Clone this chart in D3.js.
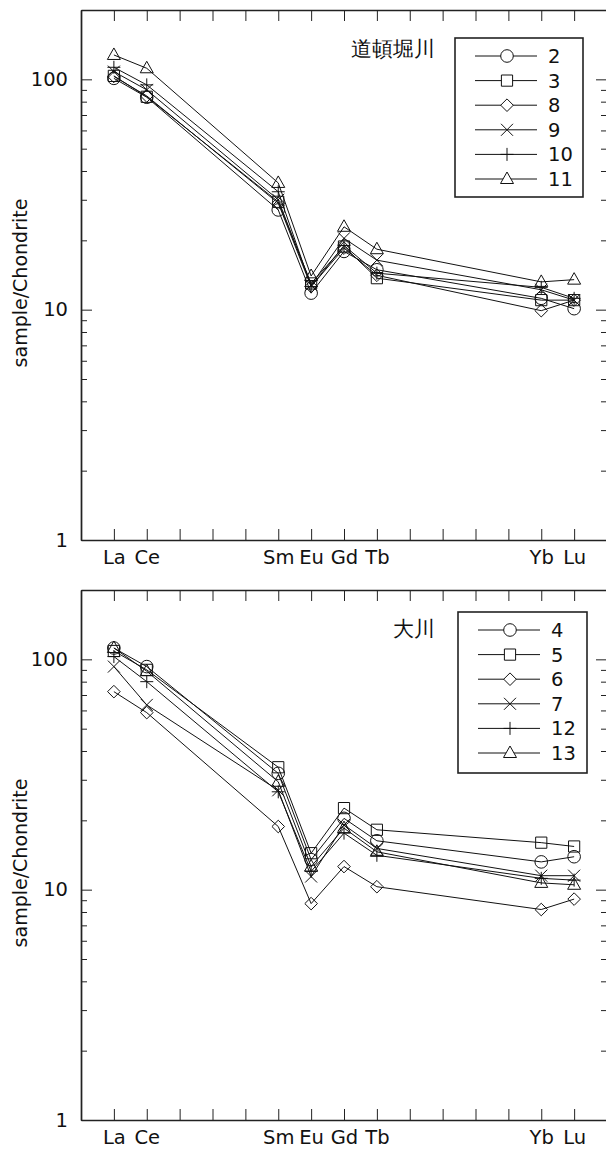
<!DOCTYPE html>
<html lang="ja">
<head>
    <meta charset="utf-8">
    <script type="text/javascript" src="https://d3js.org/d3.v7.min.js"></script>
    <style>
        body { margin: 0; background: #fff; }
        svg { display: block; }
        text { font-family: "DejaVu Sans", sans-serif; fill: #111; }
    </style>
</head>

<body>
    <script type="text/javascript">
        // Window size
        let w = 606;
        let h = 1149;

        // Categories (REE) and their atomic numbers on the x axis
        let elements = ["La", "Ce", "Sm", "Eu", "Gd", "Tb", "Yb", "Lu"];
        let atomicNo = [57, 58, 62, 63, 64, 65, 70, 71];

        // Y tick labels
        let yTickLabels = [1, 10, 100];

        // Panel 1 : 道頓堀川
        let names1 = ["2", "3", "8", "9", "10", "11"];
        let s2  = [101, 83.6, 27.1, 11.8, 17.9, 14.9, 11.2, 10.1];
        let s3  = [103.5, 84, 29.4, 13.0, 18.8, 13.7, 11.0, 11.0];
        let s8  = [103, 84.7, 29, 12.6, 18.5, 14.1, 9.9, 11.0];
        let s9  = [108, 90, 30, 12.8, 20.4, 16.4, 12.2, 11.0];
        let s10 = [112.8, 94.6, 32.5, 12.6, 19, 14.4, 12.5, 11.2];
        let s11 = [127.6, 111.7, 35.5, 14.0, 22.9, 18.3, 13.2, 13.5];

        // Panel 2 : 大川
        let names2 = ["4", "5", "6", "7", "12", "13"];
        let s4  = [112, 93, 32, 13.5, 20.4, 16.3, 13.2, 13.9];
        let s5  = [108.7, 90, 34, 14.4, 22.6, 18.2, 16.0, 15.4];
        let s6  = [72.4, 58.7, 18.8, 8.7, 12.6, 10.3, 8.2, 9.1];
        let s7  = [93, 63.4, 27, 11.4, 19.1, 15.1, 11.5, 11.5];
        let s12 = [102.8, 80, 26.6, 12.0, 17.6, 14.1, 11.2, 11.0];
        let s13 = [112, 88.8, 29.4, 12.6, 18.5, 14.6, 10.7, 10.5];

        // Marker shapes in legend order
        let shapes = ["circle", "square", "diamond", "cross", "plus", "triangle"];

        let panels = [
            { title: "道頓堀川", names: names1, series: [s2, s3, s8, s9, s10, s11],
              top: 10, bottom: 540, legend: { x: 455, y: 38, w: 128, h: 159 } },
            { title: "大川", names: names2, series: [s4, s5, s6, s7, s12, s13],
              top: 590, bottom: 1120, legend: { x: 458, y: 612, w: 129, h: 161 } }
        ];

        let svg = d3.select("body").append("svg")
            .attr("width", w)
            .attr("height", h);

        let x = d3.scaleLinear().domain([56, 72]).range([81, 607]);

        // marker path around (0,0)
        function markerPath(shape) {
            let p = d3.path();
            if (shape === "circle") {
                p.arc(0, 0, 6.3, 0, 2 * Math.PI);
            } else if (shape === "square") {
                p.rect(-5.6, -5.6, 11.2, 11.2);
            } else if (shape === "diamond") {
                p.moveTo(0, -6.3); p.lineTo(6.3, 0); p.lineTo(0, 6.3); p.lineTo(-6.3, 0); p.closePath();
            } else if (shape === "cross") {
                p.moveTo(-6, -6); p.lineTo(6, 6); p.moveTo(-6, 6); p.lineTo(6, -6);
            } else if (shape === "plus") {
                p.moveTo(-6.5, 0); p.lineTo(6.5, 0); p.moveTo(0, -6.5); p.lineTo(0, 6.5);
            } else {
                p.moveTo(0, -7); p.lineTo(6.5, 4.5); p.lineTo(-6.5, 4.5); p.closePath();
            }
            return p.toString();
        }

        // minor ticks of a log axis 1..200
        let minorTicks = [];
        [1, 10, 100].forEach(dec => {
            for (let k = 2; k <= 9; k++) {
                if (dec * k <= 200) minorTicks.push(dec * k);
            }
        });

        let allX = d3.range(57, 72);

        panels.forEach(function(pn) {
            let y = d3.scaleLog().domain([1, 200]).range([pn.bottom, pn.top]);
            let g = svg.append("g");

            // frame axes
            let styleAxis = function(sel) {
                sel.selectAll("path.domain").attr("stroke", "#222").attr("stroke-width", 1.4);
                sel.selectAll(".tick line").attr("stroke", "#222").attr("stroke-width", 1);
                sel.selectAll("text").attr("font-size", "19.5px")
                    .attr("font-family", "'DejaVu Sans', sans-serif")
                    .attr("fill", "#111");
            };

            g.append("g")
                .attr("transform", "translate(0," + pn.bottom + ")")
                .call(d3.axisBottom(x).tickValues(allX).tickSize(-11).tickSizeOuter(0).tickPadding(10)
                    .tickFormat(d => {
                        let i = atomicNo.indexOf(d);
                        return i >= 0 ? elements[i] : "";
                    }))
                .call(styleAxis);

            g.append("g")
                .attr("transform", "translate(0," + pn.top + ")")
                .call(d3.axisTop(x).tickValues(allX).tickSize(-11).tickSizeOuter(0).tickFormat(""))
                .call(styleAxis);

            // left: major with labels, minor without
            g.append("g")
                .attr("transform", "translate(" + x(56) + ",0)")
                .call(d3.axisLeft(y).tickValues(yTickLabels).tickSize(-11).tickSizeOuter(0).tickPadding(13)
                    .tickFormat(d3.format("d")))
                .call(styleAxis);
            g.append("g")
                .attr("transform", "translate(" + x(56) + ",0)")
                .call(d3.axisLeft(y).tickValues(minorTicks).tickSize(-6).tickSizeOuter(0).tickFormat(""))
                .call(styleAxis);

            // right
            g.append("g")
                .attr("transform", "translate(" + x(72) + ",0)")
                .call(d3.axisRight(y).tickValues(yTickLabels).tickSize(-11).tickSizeOuter(0).tickFormat(""))
                .call(styleAxis);
            g.append("g")
                .attr("transform", "translate(" + x(72) + ",0)")
                .call(d3.axisRight(y).tickValues(minorTicks).tickSize(-6).tickSizeOuter(0).tickFormat(""))
                .call(styleAxis);

            // y axis title
            g.append("text")
                .attr("transform", "translate(27," + ((pn.top + pn.bottom) / 2 + 8) + ") rotate(-90)")
                .attr("text-anchor", "middle")
                .attr("font-size", "19px")
                .text("sample/Chondrite");

            // series lines + markers
            let line = d3.line()
                .x((d, i) => x(atomicNo[i]))
                .y(d => y(d));

            pn.series.forEach(function(vals, si) {
                g.append("path")
                    .datum(vals)
                    .attr("d", line)
                    .attr("fill", "none")
                    .attr("stroke", "#111")
                    .attr("stroke-width", 1);

                g.selectAll(null)
                    .data(vals)
                    .join("path")
                        .attr("transform", (d, i) => "translate(" + x(atomicNo[i]) + "," + y(d) + ")")
                        .attr("d", markerPath(shapes[si]))
                        .attr("fill", "none")
                        .attr("stroke", "#111")
                        .attr("stroke-width", 1);
            });

            // title
            g.append("text")
                .attr("x", 435)
                .attr("y", pn.top + 46)
                .attr("text-anchor", "end")
                .attr("font-family", "'Noto Sans CJK JP', sans-serif")
                .attr("font-size", "21px")
                .text(pn.title);

            // legend
            let lg = pn.legend;
            let leg = g.append("g").attr("transform", "translate(" + lg.x + "," + lg.y + ")");
            leg.append("rect")
                .attr("width", lg.w)
                .attr("height", lg.h)
                .attr("fill", "#fff")
                .attr("stroke", "#222")
                .attr("stroke-width", 1.6);

            let rows = leg.selectAll("g.row")
                .data(pn.names)
                .join("g")
                    .attr("class", "row")
                    .attr("transform", (d, i) => "translate(0," + (18 + i * 24.6) + ")");

            rows.append("line")
                .attr("x1", 20).attr("x2", 82)
                .attr("stroke", "#111").attr("stroke-width", 1);
            rows.append("path")
                .attr("transform", "translate(52,0)")
                .attr("d", (d, i) => markerPath(shapes[i]))
                .attr("fill", "#fff")
                .attr("stroke", "#111")
                .attr("stroke-width", 1);
            rows.append("text")
                .attr("x", 93)
                .attr("dy", "0.36em")
                .attr("font-size", "19.5px")
                .text(d => d);
        });
    </script>
</body>
</html>
